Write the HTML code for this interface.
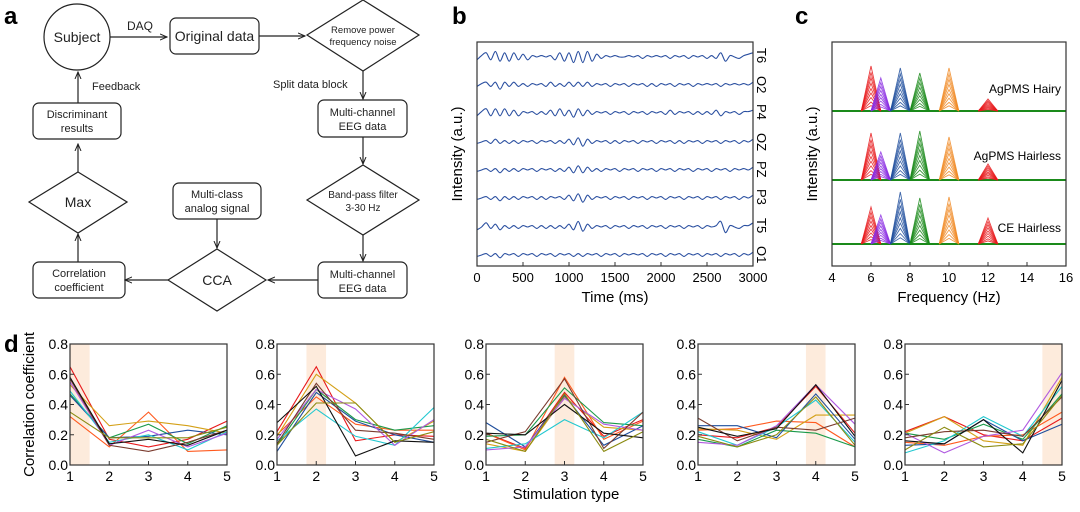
<!DOCTYPE html>
<html><head><meta charset="utf-8">
<style>
body{margin:0;background:#fff;}
svg{display:block;font-family:"Liberation Sans",Arial,sans-serif;}
</style></head>
<body>
<svg id="fig" width="1080" height="512" viewBox="0 0 1080 512">
<defs>
<marker id="ah" markerWidth="8" markerHeight="8" refX="7" refY="4" orient="auto" markerUnits="userSpaceOnUse">
<path d="M0,1 L7,4 L0,7" fill="none" stroke="#222" stroke-width="1"/>
</marker>
</defs>
<!-- Panel a: flowchart -->
<g id="panel-a" stroke="#222" stroke-width="1.2" fill="none">
<text x="4" y="24" font-size="24" font-weight="bold" fill="#000" stroke="none">a</text>
<circle cx="77" cy="37" r="33"/>
<text x="77" y="42" font-size="14" fill="#222" stroke="none" text-anchor="middle">Subject</text>
<line x1="110" y1="37" x2="167" y2="37" marker-end="url(#ah)"/>
<text x="140" y="30" font-size="12" fill="#222" stroke="none" text-anchor="middle">DAQ</text>
<rect x="170" y="18" width="89" height="36" rx="6"/>
<text x="214.5" y="41" font-size="14" fill="#222" stroke="none" text-anchor="middle">Original data</text>
<line x1="259" y1="36" x2="305" y2="36" marker-end="url(#ah)"/>
<polygon points="363,0 419,35 363,71 307,35"/>
<text x="363" y="33" font-size="9.5" fill="#222" stroke="none" text-anchor="middle"><tspan x="363">Remove power</tspan><tspan x="363" dy="12">frequency noise</tspan></text>
<text x="273" y="88" font-size="11" fill="#222" stroke="none">Split data block</text>
<line x1="363" y1="71" x2="363" y2="99" marker-end="url(#ah)"/>
<rect x="318" y="100" width="89" height="37" rx="6"/>
<text x="362.5" y="116" font-size="11" fill="#222" stroke="none" text-anchor="middle"><tspan x="362.5">Multi-channel</tspan><tspan x="362.5" dy="14">EEG data</tspan></text>
<line x1="363" y1="137" x2="363" y2="164" marker-end="url(#ah)"/>
<polygon points="363,165 419,200 363,235 307,200"/>
<text x="363" y="198" font-size="10" fill="#222" stroke="none" text-anchor="middle"><tspan x="363">Band-pass filter</tspan><tspan x="363" dy="13">3-30 Hz</tspan></text>
<line x1="363" y1="235" x2="363" y2="261" marker-end="url(#ah)"/>
<rect x="318" y="262" width="89" height="36" rx="6"/>
<text x="362.5" y="278" font-size="11" fill="#222" stroke="none" text-anchor="middle"><tspan x="362.5">Multi-channel</tspan><tspan x="362.5" dy="14">EEG data</tspan></text>
<line x1="318" y1="280" x2="268" y2="280" marker-end="url(#ah)"/>
<polygon points="217,249 266,280 217,311 168,280"/>
<text x="217" y="285" font-size="14" fill="#222" stroke="none" text-anchor="middle">CCA</text>
<rect x="173" y="183" width="88" height="36" rx="6"/>
<text x="217" y="198" font-size="11" fill="#222" stroke="none" text-anchor="middle"><tspan x="217">Multi-class</tspan><tspan x="217" dy="14">analog signal</tspan></text>
<line x1="217" y1="219" x2="217" y2="248" marker-end="url(#ah)"/>
<line x1="168" y1="280" x2="125" y2="280" marker-end="url(#ah)"/>
<rect x="33" y="262" width="92" height="36" rx="6"/>
<text x="79" y="277" font-size="11" fill="#222" stroke="none" text-anchor="middle"><tspan x="79">Correlation</tspan><tspan x="79" dy="14">coefficient</tspan></text>
<line x1="78" y1="262" x2="78" y2="234" marker-end="url(#ah)"/>
<polygon points="78,172 127,202 78,233 29,202"/>
<text x="78" y="207" font-size="14" fill="#222" stroke="none" text-anchor="middle">Max</text>
<line x1="78" y1="172" x2="78" y2="144" marker-end="url(#ah)"/>
<rect x="33" y="103" width="88" height="36" rx="6"/>
<text x="77" y="118" font-size="11" fill="#222" stroke="none" text-anchor="middle"><tspan x="77">Discriminant</tspan><tspan x="77" dy="14">results</tspan></text>
<line x1="78" y1="103" x2="78" y2="72" marker-end="url(#ah)"/>
<text x="92" y="90" font-size="11" fill="#222" stroke="none">Feedback</text>
</g>
<g id="panel-b"></g>
<g id="panel-c"></g>
<g id="panel-d"></g>
</svg>
<script>
// ---------- Panel b data ----------
const eegChannels = ["T6","O2","P4","OZ","PZ","P3","T5","O1"];
const eegTicks = [0,500,1000,1500,2000,2500,3000];
const eegT6 = [-2,1,3,-2,4,-3,3,-3,3,-2,2,-2,1,0,1,0,1,-2,3,-3,3,-4,4,-4,4,-3,2,-1,1,0,1,0,0,1,0,1,-1,1,0,1,0,1,-1,1,0,1,-1,1,0,1,-1,1,-1,3,-3,1,0,-1,1,2,3];
const eegO2 = [-1,1,2,-1,2,-3,2,-1,2,-1,1,-1,1,0,1,-1,2,-1,1,-1,2,-1,2,-1,2,-1,1,0,1,-1,1,0,1,-1,1,0,1,-1,1,-1,1,0,1,-1,1,0,1,-1,1,0,1,0,1,-1,1,0,1,0,1,0,2];
const eegP4 = [-2,1,3,-2,3,-2,3,-2,2,-2,1,0,1,-1,1,-1,2,-2,3,-2,2,-3,3,-2,2,-1,1,0,1,-1,1,0,1,-1,1,0,1,-1,1,0,1,-1,2,-1,1,0,1,-1,1,-1,1,-1,2,-2,1,0,1,-1,1,1,2];
const eegOZ = [-1,0,1,-1,2,-1,1,-1,1,-1,1,0,1,-1,1,0,1,-1,1,-1,2,-2,3,-3,2,-1,1,0,1,-1,1,-1,1,0,1,-1,1,0,1,-1,1,0,1,-1,1,-1,1,0,1,-1,1,0,1,-1,1,0,1,-1,1,0,2];
const eegPZ = [-1,0,1,-1,1,-2,1,-1,1,-1,1,0,1,-1,1,0,1,-1,1,-1,2,-2,3,-2,2,-1,1,-1,1,0,1,-1,1,0,1,-1,1,0,1,-1,1,0,1,-1,1,0,1,-1,1,0,1,-1,1,0,1,-1,1,0,1,0,2];
const eegP3 = [-1,0,1,-1,1,-2,1,-1,1,-1,1,0,1,-1,1,-1,1,0,1,-1,2,-2,3,-3,2,-1,1,0,1,-1,1,0,1,-1,1,0,1,-1,1,0,1,-1,1,0,1,-1,1,0,1,-1,1,0,1,-1,1,0,1,-1,1,0,2];
const eegT5 = [-2,0,3,-1,2,-2,1,-1,1,-1,1,0,1,-1,1,-1,1,-1,1,-1,2,-2,4,-3,2,-1,1,0,1,-1,1,0,1,-1,1,0,1,-1,1,0,1,-1,1,0,1,-1,1,0,1,-1,1,0,1,4,-4,1,0,-1,1,1,3];
const eegO1 = [-1,0,1,-1,1,-2,1,0,1,-1,1,0,1,-1,1,0,1,-1,1,0,1,-1,1,-1,1,0,1,-1,1,0,1,-1,1,0,1,0,1,-1,1,0,1,-1,1,0,1,-1,1,0,1,-1,1,0,1,-1,1,0,1,-1,1,0,2];
// ---------- Panel c data ----------
const specTicks = [4,6,8,10,12,14,16];
const specRows = ["AgPMS Hairy","AgPMS Hairless","CE Hairless"];
const specPeakFreqs = [6,6.5,7.5,8.5,10,12];
const specHairy = [45,33,43,38,43,12];
const specHairless = [47,28,47,49,43,16];
const specCE = [37,29,52,46,47,26];
const specLevels = [1,0.86,0.74,0.62,0.5,0.4,0.3,0.2,0.12];
// ---------- Panel d data ----------
const stimTypes = [1,2,3,4,5];
const corrTicks = [0,0.2,0.4,0.6,0.8];
const d1 = [[.65,.17,.12,.17,.29],[.32,.12,.35,.09,.10],[.53,.26,.29,.26,.21],[.47,.18,.27,.14,.26],[.46,.18,.19,.23,.20],[.49,.15,.20,.10,.22],[.55,.13,.23,.12,.21],[.57,.13,.09,.15,.23],[.58,.14,.17,.13,.23],[.35,.18,.18,.18,.25]];
const d2 = [[.22,.65,.16,.20,.19],[.20,.45,.27,.23,.23],[.19,.60,.41,.15,.29],[.13,.50,.30,.23,.26],[.09,.48,.29,.20,.15],[.16,.37,.19,.13,.38],[.17,.50,.37,.13,.30],[.14,.54,.23,.21,.17],[.28,.52,.06,.16,.15],[.13,.41,.41,.15,.22]];
const d3 = [[.21,.11,.48,.19,.30],[.21,.10,.58,.17,.29],[.14,.09,.45,.25,.23],[.19,.20,.51,.28,.26],[.28,.12,.46,.13,.26],[.11,.14,.30,.18,.35],[.10,.12,.44,.27,.23],[.15,.22,.57,.11,.35],[.21,.20,.40,.21,.18],[.17,.09,.47,.09,.22]];
const d4 = [[.20,.18,.25,.52,.21],[.23,.24,.29,.28,.12],[.24,.23,.17,.33,.33],[.17,.12,.23,.21,.12],[.26,.26,.18,.47,.17],[.22,.13,.25,.43,.15],[.15,.13,.26,.53,.27],[.31,.16,.25,.23,.31],[.25,.19,.24,.53,.19],[.19,.12,.20,.45,.13]];
const d5 = [[.22,.32,.20,.16,.31],[.15,.13,.19,.20,.35],[.21,.32,.16,.13,.58],[.21,.17,.27,.17,.47],[.13,.14,.30,.16,.27],[.08,.16,.32,.19,.52],[.21,.08,.19,.23,.61],[.18,.22,.23,.19,.45],[.16,.14,.30,.08,.56],[.10,.25,.12,.14,.46]];

const NS="http://www.w3.org/2000/svg";
function mk(parent,tag,attrs,text){const e=document.createElementNS(NS,tag);for(const k in attrs)e.setAttribute(k,attrs[k]);if(text!==undefined)e.textContent=text;parent.appendChild(e);return e;}

// ---------- Panel b ----------
(function(){
const g=document.getElementById('panel-b');
const L=477,R=753,T=42,B=266;
const xs=v=>L+(v/3000)*(R-L);
const base=[57,85,113,142,170,198,227,255];
const data=[eegT6,eegO2,eegP4,eegOZ,eegPZ,eegP3,eegT5,eegO1];
let t=mk(g,'text',{x:452,y:24,'font-size':24,'font-weight':'bold'},'b');


data.forEach((arr,ci)=>{
  const P=arr.map((v,i)=>[xs(i*3000/(arr.length-1)),base[ci]-v*1.4]);
  let d='M'+P[0][0].toFixed(1)+','+P[0][1].toFixed(1);
  for(let i=1;i<P.length;i++){
    const p0=P[Math.max(0,i-2)],p1=P[i-1],p2=P[i],p3=P[Math.min(P.length-1,i+1)];
    const c1=[p1[0]+(p2[0]-p0[0])/6,p1[1]+(p2[1]-p0[1])/6];
    const c2=[p2[0]-(p3[0]-p1[0])/6,p2[1]-(p3[1]-p1[1])/6];
    d+=` C${c1[0].toFixed(1)},${c1[1].toFixed(1)} ${c2[0].toFixed(1)},${c2[1].toFixed(1)} ${p2[0].toFixed(1)},${p2[1].toFixed(1)}`;
  }
  const p=mk(g,'path',{d:d,fill:'none',stroke:'#2a4fa0','stroke-width':1.1});
  
  
  const lb=mk(g,'text',{x:0,y:0,'font-size':13,transform:`translate(${R+4},${base[ci]-9}) rotate(90)`},eegChannels[ci]);
  
  
});
const ax=mk(g,'rect',{x:L,y:T,width:R-L,height:B-T,fill:'none',stroke:'#333','stroke-width':1.2});


eegTicks.forEach(v=>{
  const tk=mk(g,'line',{x1:xs(v),x2:xs(v),y1:B,y2:B-4,stroke:'#333'});
  
  
  const tl=mk(g,'text',{x:xs(v),y:B+16,'font-size':13,'text-anchor':'middle'},String(v));
  
  
});
const xt=mk(g,'text',{x:(L+R)/2,y:302,'font-size':15,'text-anchor':'middle'},'Time (ms)');


const yt=mk(g,'text',{x:0,y:0,'font-size':15,'text-anchor':'middle',transform:`translate(462,${(T+B)/2}) rotate(-90)`},'Intensity (a.u.)');


})();

// ---------- Panel c ----------
(function(){
const g=document.getElementById('panel-c');
const L=832,R=1066,T=42,B=266;
const xs=f=>L+(f-4)/12*(R-L);
const baseY=[111,180,244];
const rows=[specHairy,specHairless,specCE];
const colors=['#e8191b','#8a2be2','#1f4e9c','#1a8a1a','#f08a24','#e8191b'];
let t=mk(g,'text',{x:795,y:24,'font-size':24,'font-weight':'bold'},'c');


rows.forEach((heights,ri)=>{
  const by=baseY[ri];
  const bl=mk(g,'line',{x1:L,x2:R,y1:by,y2:by,stroke:'#1a8a1a','stroke-width':2});
  
  
  heights.forEach((h,pi)=>{
    const f=specPeakFreqs[pi];
    specLevels.forEach(lv=>{
      const pts=[[f-0.5,0],[f,h*lv],[f+0.5,0]].map(p=>xs(p[0]).toFixed(1)+','+(by-p[1]).toFixed(1)).join(' ');
      const pl=mk(g,'polyline',{points:pts,fill:'none',stroke:colors[pi],'stroke-width':0.9,opacity:0.85});
      
      
    });
  });
  const lb=mk(g,'text',{x:1061,y:[93,160,232][ri],'font-size':12,'text-anchor':'end'},specRows[ri]);
  
  
});
const ax=mk(g,'rect',{x:L,y:T,width:R-L,height:B-T,fill:'none',stroke:'#333','stroke-width':1.2});


specTicks.forEach(v=>{
  const tk=mk(g,'line',{x1:xs(v),x2:xs(v),y1:B,y2:B-4,stroke:'#333'});
  
  
  const tl=mk(g,'text',{x:xs(v),y:B+16,'font-size':13,'text-anchor':'middle'},String(v));
  
  
});
const xt=mk(g,'text',{x:(L+R)/2,y:302,'font-size':15,'text-anchor':'middle'},'Frequency (Hz)');


const yt=mk(g,'text',{x:0,y:0,'font-size':15,'text-anchor':'middle',transform:`translate(817,${(T+B)/2}) rotate(-90)`},'Intensity (a.u.)');


})();

// ---------- Panel d ----------
(function(){
const g=document.getElementById('panel-d');
const sets=[d1,d2,d3,d4,d5];
const lefts=[70,277,486,698,905];
const W=157,T=344,B=465;
const colors=['#e8191b','#ff5a1f','#d4a017','#1a9a4a','#1f4e9c','#22c8d0','#b05ae0','#7a3b2e','#111111','#8a8a10'];
const bands=[[1,1.5],[1.75,2.25],[2.75,3.25],[3.75,4.25],[4.5,5]];
let t=mk(g,'text',{x:4,y:352,'font-size':24,'font-weight':'bold'},'d');


sets.forEach((set,si)=>{
  const L=lefts[si];
  const xs=v=>L+(v-1)/4*W;
  const ys=v=>B-v/0.8*(B-T);
  const bd=mk(g,'rect',{x:xs(bands[si][0]),y:T,width:xs(bands[si][1])-xs(bands[si][0]),height:B-T,fill:'#fdebdc'});
  
  
  set.forEach((ser,k)=>{
    const pts=ser.map((v,i)=>xs(stimTypes[i]).toFixed(1)+','+ys(v).toFixed(1)).join(' ');
    const pl=mk(g,'polyline',{points:pts,fill:'none',stroke:colors[k],'stroke-width':1.1});
    
    
  });
  const ax=mk(g,'rect',{x:L,y:T,width:W,height:B-T,fill:'none',stroke:'#333','stroke-width':1.2});
  
  
  corrTicks.forEach(v=>{
    const tk=mk(g,'line',{x1:L,x2:L+4,y1:ys(v),y2:ys(v),stroke:'#333'});
    
    
    const tl=mk(g,'text',{x:L-2,y:ys(v)+5,'font-size':14,'text-anchor':'end'},v.toFixed(1));
    
    
  });
  stimTypes.forEach(v=>{
    const tk=mk(g,'line',{x1:xs(v),x2:xs(v),y1:B,y2:B-4,stroke:'#333'});
    
    
    const tl=mk(g,'text',{x:xs(v),y:B+16,'font-size':14,'text-anchor':'middle'},String(v));
    
    
  });
});
const xt=mk(g,'text',{x:566,y:499,'font-size':15,'text-anchor':'middle'},'Stimulation type');


const yt=mk(g,'text',{x:0,y:0,'font-size':15,'text-anchor':'middle',transform:`translate(34,${(T+B)/2}) rotate(-90)`},'Correlation coefficient');


})();
</script>
</body></html>
